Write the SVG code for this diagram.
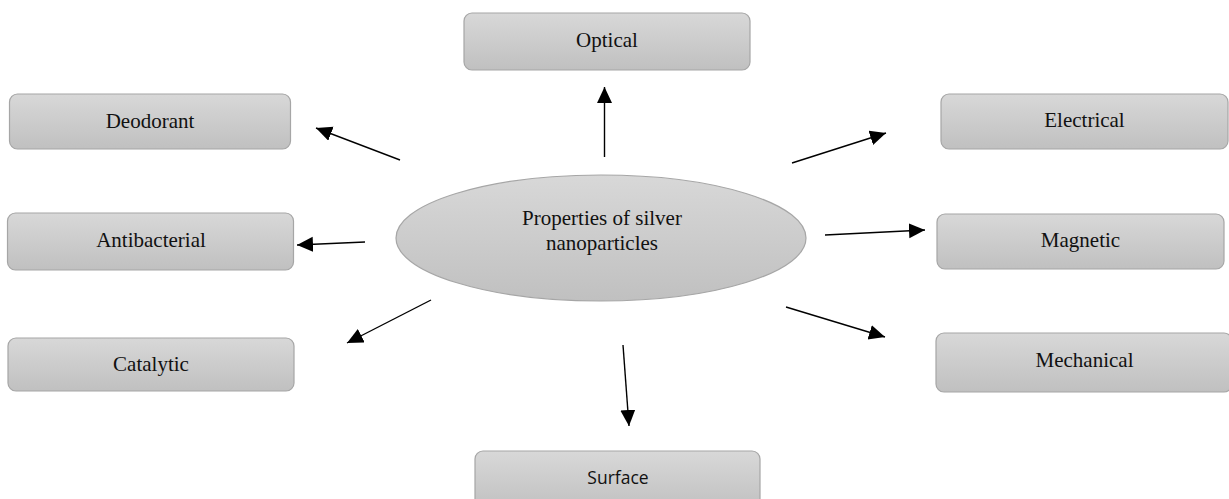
<svg xmlns="http://www.w3.org/2000/svg" width="1229" height="499" viewBox="0 0 1229 499">
<defs>
<linearGradient id="g" x1="0" y1="0" x2="0" y2="1">
<stop offset="0" stop-color="#d8d8d8"/>
<stop offset="1" stop-color="#c0c0c0"/>
</linearGradient>
<marker id="ah" markerUnits="userSpaceOnUse" markerWidth="18" markerHeight="16" refX="16" refY="7.5" orient="auto">
<path d="M0,0 L16,7.5 L0,15 Z" fill="#000"/>
</marker>
<style>
.box{fill:url(#g);stroke:#a6a6a6;stroke-width:1.2}
.t{font-family:"Liberation Serif","Times New Roman",serif;font-size:21px;fill:#111;text-anchor:middle}
.s{font-family:"Open Sans","Liberation Sans",sans-serif;font-size:17.5px;fill:#111;text-anchor:middle}
.c{stroke:#000;stroke-width:1.4;fill:none;marker-end:url(#ah)}
</style>
</defs>
<rect width="1229" height="499" fill="#fff"/>
<g id="center">
<ellipse class="box" cx="601" cy="238" rx="205" ry="63"/>
<text class="t" x="602" y="225">Properties of silver</text>
<text class="t" x="602" y="250">nanoparticles</text>
</g>
<g id="optical"><rect class="box" x="464" y="13" width="286" height="57" rx="8"/><text class="t" x="607" y="47">Optical</text></g>
<g id="deodorant"><rect class="box" x="9.5" y="94" width="281" height="55" rx="8"/><text class="t" x="150" y="128">Deodorant</text></g>
<g id="antibacterial"><rect class="box" x="7.5" y="213" width="286" height="57" rx="8"/><text class="t" x="151" y="247">Antibacterial</text></g>
<g id="catalytic"><rect class="box" x="8" y="338" width="286" height="53" rx="8"/><text class="t" x="151" y="371">Catalytic</text></g>
<g id="electrical"><rect class="box" x="941" y="94" width="287" height="55" rx="8"/><text class="t" x="1084.5" y="127">Electrical</text></g>
<g id="magnetic"><rect class="box" x="937" y="214" width="287" height="55" rx="8"/><text class="t" x="1080.5" y="247">Magnetic</text></g>
<g id="mechanical"><rect class="box" x="936" y="333" width="296" height="59" rx="8"/><text class="t" x="1084.5" y="367">Mechanical</text></g>
<g id="surface"><rect class="box" x="475" y="451" width="285" height="60" rx="8"/><text class="s" x="618" y="484">Surface</text></g>
<g id="connectors">
<line class="c" x1="604.5" y1="157" x2="604.5" y2="87"/>
<line class="c" x1="400" y1="160" x2="316" y2="128"/>
<line class="c" x1="365" y1="242" x2="297" y2="245"/>
<line class="c" x1="431" y1="300" x2="347" y2="343"/>
<line class="c" x1="623" y1="345" x2="629" y2="426"/>
<line class="c" x1="792" y1="163" x2="886" y2="133"/>
<line class="c" x1="825" y1="235" x2="925" y2="230"/>
<line class="c" x1="786" y1="307" x2="885" y2="337"/>
</g>
</svg>
